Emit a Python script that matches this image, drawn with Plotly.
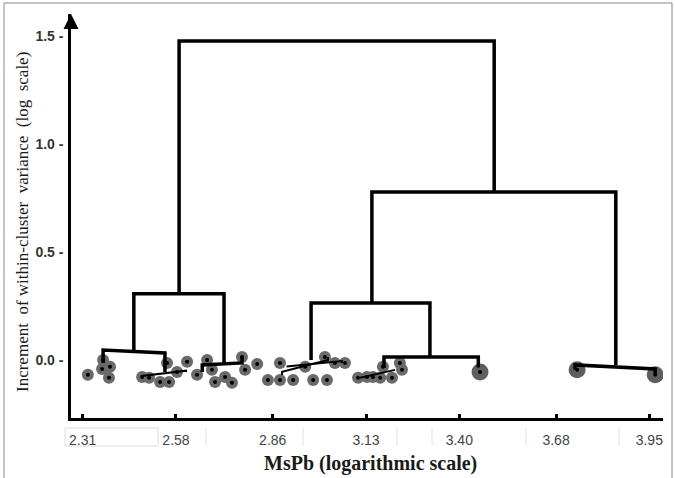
import plotly.graph_objects as go

# ---- data ----
tick_x_vals = [2.31, 2.58, 2.86, 3.13, 3.40, 3.68, 3.95]
tick_x_text = ["2.31", "2.58", "2.86", "3.13", "3.40", "3.68", "3.95"]
tick_y_vals = [0.0, 0.5, 1.0, 1.5]
tick_y_text = ["<b>0.0 -</b>", "<b>0.5 -</b>", "<b>1.0 -</b>", "<b>1.5 -</b>"]

point_x = [2.325, 2.366, 2.369, 2.389, 2.386, 2.482, 2.502, 2.534, 2.560, 2.554,
           2.583, 2.612, 2.641, 2.670, 2.684, 2.693, 2.722, 2.742, 2.771, 2.780,
           2.815, 2.846, 2.881, 2.881, 2.919, 2.954, 2.977, 3.011, 3.017, 3.040,
           3.069, 3.107, 3.133, 3.150, 3.171, 3.179, 3.205, 3.228, 3.234]
point_y = [-0.069, -0.042, 0.000, -0.032, -0.083, -0.079, -0.083, -0.102, -0.102, -0.014,
           -0.056, -0.009, -0.069, 0.000, -0.046, -0.102, -0.079, -0.106, 0.014, -0.046,
           -0.019, -0.093, -0.014, -0.093, -0.093, -0.032, -0.093, 0.014, -0.093, -0.014,
           -0.014, -0.083, -0.079, -0.079, -0.083, -0.032, -0.083, -0.014, -0.046]
big_x = [3.460, 3.741, 3.967]
big_y = [-0.056, -0.046, -0.069]

# dendrogram links: left x, right x, top heights (left/right), bottom heights (left/right)
link_xl = [2.589, 2.458, 3.147, 2.971, 3.182, 3.735, 2.369, 2.656, 2.482, 2.887, 2.900, 3.113]
link_xr = [3.501, 2.719, 3.853, 3.315, 3.455, 3.967, 2.548, 2.771, 2.609, 3.020, 3.060, 3.214]
link_ytop_l = [1.477, 0.306, 0.778, 0.264, 0.014, -0.023, 0.046, -0.023, -0.074, -0.055, -0.030, -0.083]
link_ytop_r = [1.477, 0.306, 0.778, 0.264, 0.014, -0.042, 0.032, -0.014, -0.050, 0.000, -0.005, -0.046]
link_ybot_l = [0.306, 0.046, 0.264, 0.000, -0.037, -0.046, -0.014, -0.056, -0.079, -0.070, -0.030, -0.083]
link_ybot_r = [0.778, -0.023, -0.023, 0.014, -0.035, -0.069, -0.056, 0.014, -0.056, 0.014, -0.014, -0.046]
link_major = [True, True, True, True, True, True, True, True, False, False, False, False]

fig = go.Figure()

# grey halos of points
fig.add_trace(go.Scatter(x=point_x, y=point_y, mode="markers",
                         marker=dict(size=12, color="#5a5a5a", line=dict(width=0)),
                         opacity=0.9, hoverinfo="skip", showlegend=False))
fig.add_trace(go.Scatter(x=big_x, y=big_y, mode="markers",
                         marker=dict(size=17, color="#5e5e5e", line=dict(width=0)),
                         hoverinfo="skip", showlegend=False))

# dendrogram lines
for major in (True, False):
    xs, ys = [], []
    for i in range(len(link_xl)):
        if link_major[i] != major:
            continue
        xs += [link_xl[i], link_xl[i], link_xr[i], link_xr[i], None]
        ys += [link_ybot_l[i], link_ytop_l[i], link_ytop_r[i], link_ybot_r[i], None]
    fig.add_trace(go.Scatter(x=xs, y=ys, mode="lines",
                             line=dict(color="black", width=3.5 if major else 2),
                             hoverinfo="skip", showlegend=False))

# black centers
fig.add_trace(go.Scatter(x=point_x + big_x, y=point_y + big_y, mode="markers",
                         marker=dict(size=4, color="black"),
                         hoverinfo="skip", showlegend=False))

W, H = 675, 478
L, R, T, B = 71, 12, 14, 60
pw, ph = W - L - R, H - T - B


def px(xp):
    return (xp - L) / pw


def py(yp):
    return (H - B - yp) / ph


shapes = []
# faint label cell lines
shapes.append(dict(type="rect", xref="paper", yref="paper", x0=px(65), x1=px(158),
                   y0=py(446), y1=py(428), line=dict(color="#dddddd", width=1)))
for xs_ in [206, 303, 397, 432, 526, 619]:
    shapes.append(dict(type="line", xref="paper", yref="paper", x0=px(xs_), x1=px(xs_),
                       y0=py(446), y1=py(428), line=dict(color="#e2e2e2", width=1)))
# image frame
shapes.append(dict(type="path", xref="paper", yref="paper",
                   path=f"M {px(4)},{py(478)} L {px(4)},{py(3)} L {px(672)},{py(3)} L {px(672)},{py(478)}",
                   line=dict(color="#8a8a8a", width=1)))

fig.update_layout(
    width=W, height=H,
    margin=dict(l=L, r=R, t=T, b=B),
    paper_bgcolor="white", plot_bgcolor="white",
    shapes=shapes,
    xaxis=dict(range=[2.2761, 3.9896], showgrid=False, zeroline=False,
               showline=True, linecolor="black", linewidth=2.5,
               tickvals=tick_x_vals, ticktext=tick_x_text,
               ticks="inside", ticklen=4, tickwidth=3, tickcolor="black",
               tickfont=dict(family="Liberation Sans, Arial", size=14, color="#444444"),
               ticklabelstandoff=7),
    yaxis=dict(range=[-0.269, 1.602], showgrid=False, zeroline=False,
               showline=True, linecolor="black", linewidth=2.5,
               tickvals=tick_y_vals, ticktext=tick_y_text, ticks="",
               tickfont=dict(family="Liberation Sans, Arial", size=14, color="#333333"),
               ticklabelstandoff=2),
    annotations=[
        dict(xref="paper", yref="paper", x=0, y=1.0, ax=0, ay=14, text="",
             showarrow=True, arrowhead=2, arrowsize=1.2, arrowwidth=2.5, arrowcolor="black"),
        dict(xref="paper", yref="paper", x=px(22), y=py(222), textangle=-90,
             xanchor="center", yanchor="middle",
             text="Increment  of within-cluster  variance  (log  scale)", showarrow=False,
             font=dict(family="Liberation Serif, Times New Roman", size=17, color="#1a1a1a")),
        dict(xref="paper", yref="paper", x=px(370), y=py(463),
             xanchor="center", yanchor="middle",
             text="<b>MsPb (logarithmic scale)</b>", showarrow=False,
             font=dict(family="Liberation Serif, Times New Roman", size=20, color="#1a1a1a")),
    ],
)

fig.write_html("out.html", config={"displayModeBar": False},
               post_script="document.body.style.margin='0';")
